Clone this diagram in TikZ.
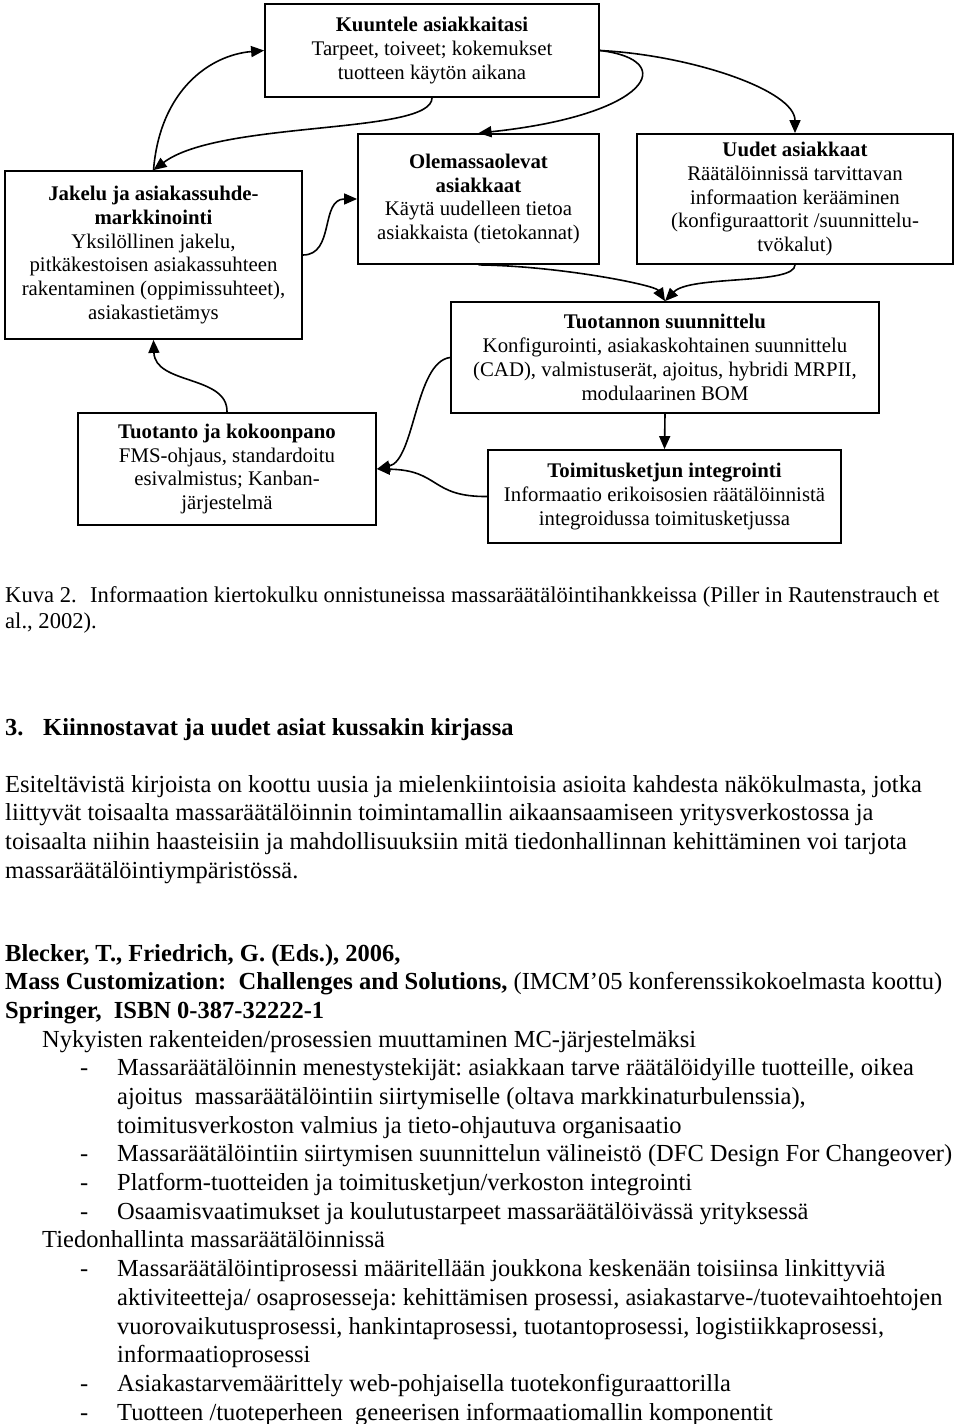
\documentclass[tikz,border=0pt]{standalone}
\usepackage{fontspec}
\setmainfont{Liberation Serif}
\usetikzlibrary{arrows.meta}
\frenchspacing

\newcommand{\bodysize}{\fontsize{24.5}{28.7}\selectfont}
\newcommand{\capsize}{\fontsize{22.6}{26}\selectfont}
\newcommand{\boxsize}{\fontsize{20.8}{23.9}\selectfont}

\tikzset{
  block/.style={draw, line width=1.8pt, align=center, inner sep=2pt, font=\boxsize},
  flow/.style={line width=1.6pt, -{Triangle[length=13pt,width=11pt]}},
  txt/.style={anchor=base west, inner sep=0pt, font=\bodysize},
}

\begin{document}
\begin{tikzpicture}[x=1pt, y=-1pt]
  \useasboundingbox (0,0) rectangle (960,1424);

  % boxes of the cycle
  \node[block, minimum width=334pt, minimum height=93pt] (listen) at (432,50.5)
    {\textbf{Kuuntele asiakkaitasi}\\Tarpeet, toiveet; kokemukset\\tuotteen käytön aikana};
  \node[block, minimum width=241pt, minimum height=130pt] (old) at (478.5,199)
    {\textbf{Olemassaolevat}\\\textbf{asiakkaat}\\Käytä uudelleen tietoa\\asiakkaista (tietokannat)};
  \node[block, minimum width=316pt, minimum height=130pt] (new) at (795,199)
    {\textbf{Uudet asiakkaat}\\Räätälöinnissä tarvittavan\\informaation kerääminen\\(konfiguraattorit /suunnittelu-\\tvökalut)};
  \node[block, minimum width=297pt, minimum height=168pt] (dist) at (153.5,255)
    {\textbf{Jakelu ja asiakassuhde-}\\\textbf{markkinointi}\\Yksilöllinen jakelu,\\pitkäkestoisen asiakassuhteen\\rakentaminen (oppimissuhteet),\\asiakastietämys};
  \node[block, minimum width=428pt, minimum height=111pt] (plan) at (665,357.5)
    {\textbf{Tuotannon suunnittelu}\\Konfigurointi, asiakaskohtainen suunnittelu\\(CAD), valmistuserät, ajoitus, hybridi MRPII,\\modulaarinen BOM};
  \node[block, minimum width=298pt, minimum height=112pt] (prod) at (227,469)
    {\textbf{Tuotanto ja kokoonpano}\\FMS-ohjaus, standardoitu\\esivalmistus; Kanban-\\järjestelmä};
  \node[block, minimum width=353pt, minimum height=93pt] (supply) at (664.5,496.5)
    {\textbf{Toimitusketjun integrointi}\\Informaatio erikoisosien räätälöinnistä\\integroidussa toimitusketjussa};

  % arrows
  \draw[flow] (listen.south) .. controls (432,135) and (220,120) .. (dist.north);
  \draw[flow] (dist.north) .. controls (160,90) and (210,55) .. (listen.west);
  \draw[flow] (listen.east) .. controls (690,55) and (795,90) .. (new.north);
  \draw[flow] (listen.east) .. controls (680,60) and (650,115) .. (old.north);
  \draw[flow] (dist.east) .. controls (335,255) and (320,199) .. (old.west);
  \draw[flow] (old.south) .. controls (560,266) and (655,285) .. (plan.north);
  \draw[flow] (new.south) .. controls (795,285) and (690,275) .. (plan.north);
  \draw[flow] (plan.south) -- (supply.north);
  \draw[flow] (plan.west) .. controls (415,362) and (415,460) .. (prod.east);
  \draw[flow] (supply.west) .. controls (430,497) and (440,470) .. (prod.east);
  \draw[flow] (prod.north) .. controls (228,375) and (155,385) .. (dist.south);

  % caption and text below
  \node[txt, font=\capsize] (cap1) at (5,602) {\makebox[85pt][l]{Kuva 2.}Informaation kiertokulku onnistuneissa massaräätälöintihankkeissa (Piller in Rautenstrauch et};
  \node[txt, font=\capsize] (cap2) at (5,628) {al., 2002).};
  \node[txt, font=\bodysize\bfseries] (head) at (5,735) {\makebox[38pt][l]{3.}Kiinnostavat ja uudet asiat kussakin kirjassa};

  \node[txt] (par1) at (5,792) {Esiteltävistä kirjoista on koottu uusia ja mielenkiintoisia asioita kahdesta näkökulmasta, jotka};
  \node[txt] (par2) at (5,820.7) {liittyvät toisaalta massaräätälöinnin toimintamallin aikaansaamiseen yritysverkostossa ja};
  \node[txt] (par3) at (5,849.4) {toisaalta niihin haasteisiin ja mahdollisuuksiin mitä tiedonhallinnan kehittäminen voi tarjota};
  \node[txt] (par4) at (5,878.1) {massaräätälöintiympäristössä.};

  \node[txt, font=\bodysize\bfseries] (ref1) at (5,961) {Blecker, T., Friedrich, G. (Eds.), 2006,};
  \node[txt] (ref2) at (5,989.7) {\textbf{Mass Customization:\ \ Challenges and Solutions,} (IMCM’05 konferenssikokoelmasta koottu)};
  \node[txt, font=\bodysize\bfseries] (ref3) at (5,1018.4) {Springer,\ \ ISBN 0-387-32222-1};

  \node[txt] (sub1) at (42,1047) {Nykyisten rakenteiden/prosessien muuttaminen MC-järjestelmäksi};
  \node[txt] (it1) at (80,1075.7) {\makebox[37pt][l]{-}Massaräätälöinnin menestystekijät: asiakkaan tarve räätälöidyille tuotteille, oikea};
  \node[txt] (it1b) at (117,1104.4) {ajoitus\ \ massaräätälöintiin siirtymiselle (oltava markkinaturbulenssia),};
  \node[txt] (it1c) at (117,1133.1) {toimitusverkoston valmius ja tieto-ohjautuva organisaatio};
  \node[txt] (it2) at (80,1161.8) {\makebox[37pt][l]{-}Massaräätälöintiin siirtymisen suunnittelun välineistö (DFC Design For Changeover)};
  \node[txt] (it3) at (80,1190.5) {\makebox[37pt][l]{-}Platform-tuotteiden ja toimitusketjun/verkoston integrointi};
  \node[txt] (it4) at (80,1219.2) {\makebox[37pt][l]{-}Osaamisvaatimukset ja koulutustarpeet massaräätälöivässä yrityksessä};

  \node[txt] (sub2) at (42,1247.9) {Tiedonhallinta massaräätälöinnissä};
  \node[txt] (it5) at (80,1276.6) {\makebox[37pt][l]{-}Massaräätälöintiprosessi määritellään joukkona keskenään toisiinsa linkittyviä};
  \node[txt] (it5b) at (117,1305.3) {aktiviteetteja/ osaprosesseja: kehittämisen prosessi, asiakastarve-/tuotevaihtoehtojen};
  \node[txt] (it5c) at (117,1334) {vuorovaikutusprosessi, hankintaprosessi, tuotantoprosessi, logistiikkaprosessi,};
  \node[txt] (it5d) at (117,1362.7) {informaatioprosessi};
  \node[txt] (it6) at (80,1391.4) {\makebox[37pt][l]{-}Asiakastarvemäärittely web-pohjaisella tuotekonfiguraattorilla};
  \node[txt] (it7) at (80,1420.1) {\makebox[37pt][l]{-}Tuotteen /tuoteperheen\ \ geneerisen informaatiomallin komponentit};
\end{tikzpicture}
\end{document}
